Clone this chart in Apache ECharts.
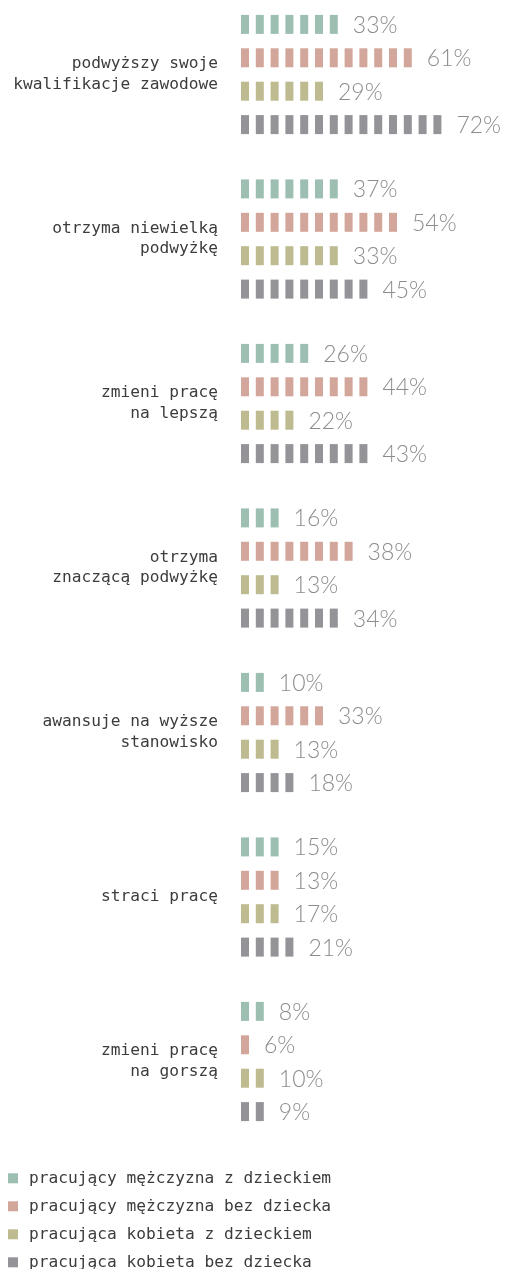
<!DOCTYPE html>
<html>
<head>
<meta charset="utf-8">
<script src="https://cdn.jsdelivr.net/npm/echarts@6/dist/echarts.min.js"></script>
<style>
html,body{margin:0;padding:0;background:#fff;}
#chart{width:507px;height:1269px;}
</style>
</head>
<body>
<div id="chart"></div>
<script>
// ---- data ----
const categories = [
  'podwyższy swoje\nkwalifikacje zawodowe',
  'otrzyma niewielką\npodwyżkę',
  'zmieni pracę\nna lepszą',
  'otrzyma\nznaczącą podwyżkę',
  'awansuje na wyższe\nstanowisko',
  'straci pracę',
  'zmieni pracę\nna gorszą'
];
const seriesNames = [
  'pracujący mężczyzna z dzieckiem',
  'pracujący mężczyzna bez dziecka',
  'pracująca kobieta z dzieckiem',
  'pracująca kobieta bez dziecka'
];
const menWithChild = [33, 37, 26, 16, 10, 15, 8];
const menNoChild = [61, 54, 44, 38, 33, 13, 6];
const womenWithChild = [29, 33, 22, 13, 13, 17, 10];
const womenNoChild = [72, 45, 43, 34, 18, 21, 9];
// number of icons drawn in each bar (one icon per 5 percentage points), as seen in the picture
const menWithChildIcons = [7, 7, 5, 3, 2, 3, 2];
const menNoChildIcons = [12, 11, 9, 8, 6, 3, 1];
const womenWithChildIcons = [6, 7, 4, 3, 3, 3, 2];
const womenNoChildIcons = [14, 9, 9, 7, 4, 4, 2];
const iconStep = 5;

const valueSets = [menWithChild, menNoChild, womenWithChild, womenNoChild];
const iconSets = [menWithChildIcons, menNoChildIcons, womenWithChildIcons, womenNoChildIcons];
const colors = ['#9dbfb1', '#d3a69b', '#bdbb8f', '#939398'];
const rowOffsets = [-50.1, -16.7, 16.7, 50.1];
const textFont = 'DejaVu Sans Mono';

const chart = echarts.init(document.getElementById('chart'), null, {renderer: 'canvas'});

function makeRender(j) {
  return function (params, api) {
    const cat = api.value(0);
    const v = api.value(1);
    const n = api.value(2);
    const base = api.coord([0, cat]);
    const cy = base[1] + rowOffsets[j];
    const W = 8, H = 19;
    const color = api.visual('color');
    const children = [];
    for (let i = 0; i < n; i++) {
      const x0 = api.coord([i * iconStep, cat])[0];
      children.push({
        type: 'rect',
        shape: {x: x0, y: cy - H / 2, width: W, height: H},
        style: {fill: color}
      });
    }
    const lastX = api.coord([(n - 1) * iconStep, cat])[0];
    children.push({
      type: 'text',
      style: {
        text: v + '%',
        x: lastX + W + 15,
        y: cy + 1,
        align: 'left',
        verticalAlign: 'middle',
        fill: '#8c8c8c',
        font: '300 23px Lato'
      }
    });
    return {type: 'group', children: children};
  };
}

const series = seriesNames.map(function (name, j) {
  return {
    type: 'custom',
    name: name,
    itemStyle: {color: colors[j]},
    encode: {x: 1, y: 0},
    renderItem: makeRender(j),
    data: categories.map(function (c, i) { return [i, valueSets[j][i], iconSets[j][i]]; })
  };
});

chart.setOption({
  animation: false,
  backgroundColor: '#fff',
  grid: {left: 241, right: 29.2, top: 74.5, height: 987, containLabel: false},
  xAxis: {type: 'value', min: 0, max: 80, show: false},
  yAxis: {
    type: 'category',
    inverse: true,
    boundaryGap: false,
    data: categories,
    axisLine: {show: false},
    axisTick: {show: false},
    splitLine: {show: false},
    axisLabel: {
      margin: 23,
      align: 'right',
      color: '#3c3c3c',
      fontFamily: textFont,
      fontSize: 16.2,
      lineHeight: 20.5,
      padding: [0, 0, 5, 0]
    }
  },
  legend: {
    orient: 'vertical',
    left: 8,
    top: 1166.3,
    height: 130,
    padding: 0,
    icon: 'rect',
    itemWidth: 10,
    itemHeight: 10,
    itemGap: 4,
    data: seriesNames,
    textStyle: {
      color: '#3c3c3c',
      fontFamily: textFont,
      fontSize: 16.2,
      lineHeight: 18,
      padding: [6, 0, 0, 6]
    }
  },
  series: series
});
</script>
</body>
</html>
